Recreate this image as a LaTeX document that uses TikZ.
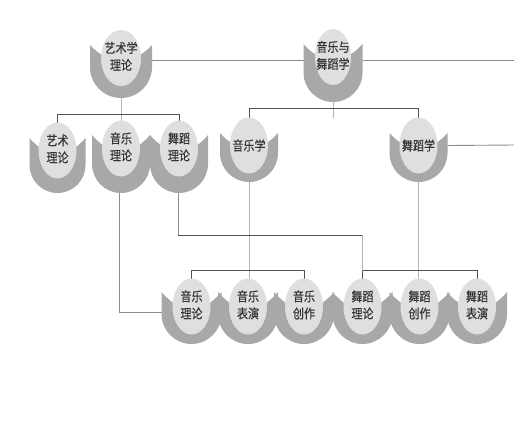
\documentclass[tikz,border=0pt]{standalone}
\usepackage{fontspec}
\usepackage{graphicx}
\newfontfamily\cjk[FakeBold=0.4]{Noto Sans CJK SC}
\usetikzlibrary{calc}
\pgfdeclarelayer{bg}
\pgfsetlayers{bg,main}
\definecolor{cupgray}{HTML}{A8A8A8}
\definecolor{ellgray}{HTML}{E1DEE1}
\definecolor{txtgray}{HTML}{333333}
\definecolor{darkline}{HTML}{4B525C}
\definecolor{lightline}{HTML}{B4B4B4}
\definecolor{midline}{HTML}{8C8C8C}
\newcommand\tuTwo[2]{\scalebox{0.85}[1]{\begin{tabular}{@{}c@{}}#1\\#2\end{tabular}}}
\newcommand\tuOne[1]{\scalebox{0.85}[1]{#1}}
% name, cx, cy, rx, R, tip y, gray bottom y, text
\newcommand\tulip[8]{%
  \fill[cupstyle] ({#2-#5},#6) -- ({#2-#5},{#7-#5})
    .. controls ({#2-#5},{#7-0.448*#5}) and ({#2-0.552*#5},#7) .. (#2,#7)
    .. controls ({#2+0.552*#5},#7) and ({#2+#5},{#7-0.448*#5}) .. ({#2+#5},{#7-#5})
    -- ({#2+#5},#6)
    .. controls ({#2+#5-4},{#6+5}) and ({#2+12},{#3+4}) .. (#2,{#3+4})
    .. controls ({#2-12},{#3+4}) and ({#2-#5+4},{#6+5}) .. cycle;
  \fill[ellstyle] (#2,#3) ellipse[x radius=#4, y radius=28];
  \node[labstyle] (#1) at (#2,#3) {#8};
  \coordinate (#1-l) at ({#2-#5},#3);
  \coordinate (#1-r) at ({#2+#5},#3);
  \coordinate (#1-t) at (#2,{#3-28});
  \coordinate (#1-b) at (#2,#7);
}
\tikzset{
  cupstyle/.style={fill=cupgray},
  ellstyle/.style={fill=ellgray},
  labstyle/.style={inner sep=0pt, text=txtgray, font=\cjk\fontsize{13}{17}\selectfont},
  darkln/.style={draw=darkline, line width=0.9pt},
  lightln/.style={draw=lightline, line width=0.9pt},
  midln/.style={draw=midline, line width=0.9pt},
}
\begin{document}
\begin{tikzpicture}[x=1pt,y=-1pt]
\useasboundingbox (0,0) rectangle (514,437);
\tulip{ysxll}{121}{58}{20}{31}{45}{98}{\tuTwo{艺术学}{理论}}
\tulip{yywdx}{333}{57}{18}{29.5}{44}{102}{\tuTwo{音乐与}{舞蹈学}}
\tulip{ysll}{57.5}{150.5}{19}{28}{138}{193}{\tuTwo{艺术}{理论}}
\tulip{yyll}{121}{148.5}{19}{29}{135}{193}{\tuTwo{音乐}{理论}}
\tulip{wdll}{179}{148.5}{19}{29}{135}{193}{\tuTwo{舞蹈}{理论}}
\tulip{yyx}{249}{145.5}{19}{29}{133}{182}{\tuOne{音乐学}}
\tulip{wdx}{418.5}{145.5}{19}{29}{133}{182}{\tuOne{舞蹈学}}
\tulip{byyll}{191.5}{306.5}{19}{30}{292}{344}{\tuTwo{音乐}{理论}}
\tulip{byyby}{248}{306.5}{19}{30}{292}{344}{\tuTwo{音乐}{表演}}
\tulip{byycz}{304}{306.5}{19}{30}{292}{344}{\tuTwo{音乐}{创作}}
\tulip{bwdll}{362.5}{306.5}{19}{30}{292}{344}{\tuTwo{舞蹈}{理论}}
\tulip{bwdcz}{419.5}{306.5}{19}{30}{292}{344}{\tuTwo{舞蹈}{创作}}
\tulip{bwdby}{477}{306.5}{19}{30}{292}{344}{\tuTwo{舞蹈}{表演}}
\coordinate (eA) at (514,60);
\coordinate (eB) at (514,145);
\begin{pgfonlayer}{bg}
  \fill[white] (0,0) rectangle (514,437);
  % top horizontal lines
  \draw[midln] ([yshift=-2pt]ysxll-r) -- ([yshift=-2pt]ysxll-r -| yywdx-l);
  \draw[midln] ([yshift=-3pt]yywdx-r) -- (eA);
  \draw[midln] (wdx-r) -- (eB);
  % bracket 1
  \draw[lightln] (ysxll-b) -- (ysxll-b |- yyll-t);
  \draw[darkln] (ysll-t) -- ++(0,-8) -| (wdll-t);
  % bracket 2
  \draw[lightln] (yywdx-b) -- (yywdx-b |- yyx-t);
  \draw[darkln] (yyx-t) -- ++(0,-9) -| (wdx-t);
  % bracket 3
  \draw[lightln] (yyx-b) -- (yyx-b |- byyby-t);
  \draw[darkln] (byyll-t) -- ++(0,-8) -| (byycz-t);
  % bracket 4
  \draw[lightln] (wdx-b) -- (wdx-b |- bwdcz-t);
  \draw[darkln] (bwdll-t) -- ++(0,-8) -| (bwdby-t);
  % route A
  \draw[midln] ([xshift=-2pt]yyll-b) |- ([yshift=-5.5pt]byyll-l);
  % route B
  \path (wdll-b) ++(-1,42) coordinate (b1);
  \draw[midln] ([xshift=-1pt]wdll-b) -- (b1);
  \draw[darkln] (b1) -- (b1 -| bwdll-t) coordinate (b2);
  \draw[lightln] (b2) -- ([yshift=8pt]bwdll-t);
\end{pgfonlayer}
\end{tikzpicture}
\end{document}
